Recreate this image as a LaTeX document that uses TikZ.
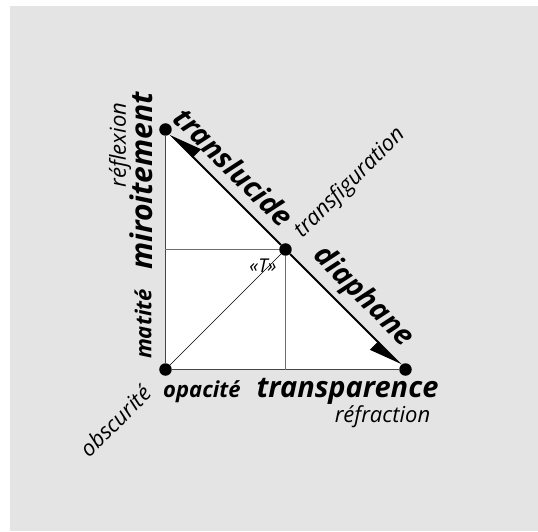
\documentclass[tikz,border=0pt]{standalone}
\usepackage{fontspec}
\setmainfont{Open Sans}
\usetikzlibrary{arrows.meta}
\definecolor{bggray}{HTML}{E3E4E3}
\definecolor{leggray}{HTML}{454545}
\definecolor{gridgray}{HTML}{6E6E6E}

\begin{document}
\begin{tikzpicture}[x=60pt,y=60pt,
        dot/.style={circle,fill=black,inner sep=0pt,minimum size=12.5pt},
        leg/.style={draw=leggray,line width=1.5pt},
        grid/.style={draw=gridgray,line width=1.3pt},
        hypo/.style={line width=2pt,-{Triangle[harpoon,swap,length=30pt,width=22pt]}},
        word/.style={inner sep=0pt},
        big/.style={word,font=\fontsize{29}{34}\selectfont\bfseries\itshape},
        mid/.style={word,font=\fontsize{22}{26}\selectfont\bfseries\itshape},
        soft/.style={word,font=\fontsize{22}{26}\selectfont\itshape}]
                \useasboundingbox (-2.7583,-2.6917) rectangle (6.2083,6.1583);
                \fill [bggray] (-2.5917,-2.6917) rectangle (6.2083,6.0583);
                \fill [white] (0,0)--(0,4)--(4,0)--cycle;
                \coordinate (L) at (0,2);
                \coordinate (D) at (2,0);
                \node [dot] (O) at (0,0) {};
                \node [dot] (A) at (0,4) {};
                \node [dot] (B) at (4,0) {};
                \node [dot] (M) at (2,2) {};
                \draw [leg] (O) -- (A);
                \draw [leg] (O) -- (B);
                \draw [grid] (L) -- (M);
                \draw [grid] (M) -- (D);
                \draw [line width=.6pt] (O) -- (M);
                \draw [hypo] (M) -- (A);
                \draw [hypo] (M) -- (B);
                \node [big,rotate=-45] (transl) at (1.14,3.375) {translucide};
                \node [big,rotate=-45] (diaph) at (3.292,1.208) {diaphane};
                \node [soft,rotate=45] (transf) at (3.075,3.108) {transfiguration};
                \node [big,rotate=90,font=\fontsize{30}{34}\selectfont\bfseries\itshape] (miroit) at (-0.408,3.142) {miroitement};
                \node [soft,rotate=90] (reflex) at (-0.758,3.742) {réflexion};
                \node [mid,rotate=90] (matite) at (-0.375,0.758) {matité};
                \node [soft,rotate=45] (obscur) at (-0.842,-0.858) {obscurité};
                \node [mid] (opac) at (0.608,-0.375) {opacité};
                \node [big] (transp) at (3.033,-0.367) {transparence};
                \node [soft] (refrac) at (3.617,-0.783) {réfraction};
                \node [word,font=\fontsize{19}{22}\selectfont\itshape] (T) at (1.625,1.725) {«T»};
\end{tikzpicture}
\end{document}
